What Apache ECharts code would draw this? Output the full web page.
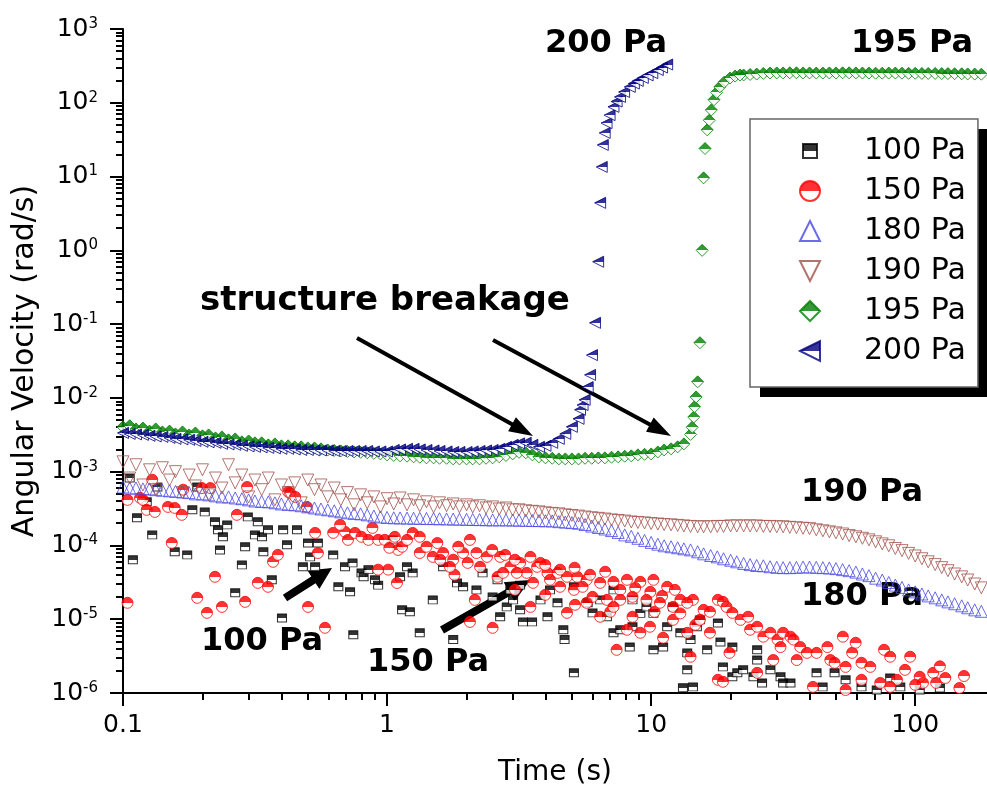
<!DOCTYPE html>
<html>
<head>
<meta charset="utf-8">
<script src="https://cdn.jsdelivr.net/npm/echarts@6/dist/echarts.min.js"></script>
<style>
  html, body { margin: 0; padding: 0; background: #fff; }
  #chart { width: 987px; height: 799px; }
</style>
</head>
<body>
<div id="chart"></div>
<script>
// measurement times shared by the dense curves (s)
var time = [
  0.1,0.106,0.112,0.119,0.126,0.133,0.141,0.15,0.158,0.168,
  0.178,0.188,0.2,0.211,0.224,0.237,0.251,0.266,0.282,0.299,
  0.316,0.335,0.355,0.376,0.398,0.422,0.447,0.473,0.501,0.531,
  0.562,0.596,0.631,0.668,0.708,0.75,0.794,0.841,0.891,0.944,
  1,1.06,1.12,1.19,1.26,1.33,1.41,1.5,1.58,1.68,
  1.78,1.88,2,2.11,2.24,2.37,2.51,2.66,2.82,2.99,
  3.16,3.35,3.55,3.76,3.98,4.22,4.47,4.73,5.01,5.31,
  5.62,5.96,6.31,6.68,7.08,7.5,7.94,8.41,8.91,9.44,
  10,10.6,11.2,11.9,12.6,13.3,14.1,15,15.8,16.8,
  17.8,18.8,20,21.1,22.4,23.7,25.1,26.6,28.2,29.9,
  31.6,33.5,35.5,37.6,39.8,42.2,44.7,47.3,50.1,53.1,
  56.2,59.6,63.1,66.8,70.8,75,79.4,84.1,89.1,94.4,
  100,106,112,119,126,133,141,150,158,168,178
];

// 180 Pa
var v180 = [
  6.2e-4,6.0e-4,6.0e-4,5.85e-4,5.85e-4,5.7e-4,5.6e-4,5.5e-4,5.4e-4,5.3e-4,
  5.2e-4,5.0e-4,5.0e-4,4.85e-4,4.7e-4,4.55e-4,4.55e-4,4.4e-4,4.3e-4,4.15e-4,
  4.0e-4,3.95e-4,3.9e-4,3.78e-4,3.65e-4,3.6e-4,3.55e-4,3.45e-4,3.33e-4,3.22e-4,
  3.12e-4,3.04e-4,2.95e-4,2.85e-4,2.77e-4,2.72e-4,2.68e-4,2.6e-4,2.5e-4,2.43e-4,
  2.4e-4,2.37e-4,2.36e-4,2.35e-4,2.34e-4,2.33e-4,2.32e-4,2.31e-4,2.3e-4,2.29e-4,
  2.28e-4,2.27e-4,2.26e-4,2.25e-4,2.24e-4,2.23e-4,2.22e-4,2.22e-4,2.22e-4,2.21e-4,
  2.2e-4,2.19e-4,2.18e-4,2.17e-4,2.16e-4,2.15e-4,2.1e-4,2.07e-4,2.04e-4,2.0e-4,
  1.92e-4,1.83e-4,1.75e-4,1.67e-4,1.59e-4,1.5e-4,1.39e-4,1.33e-4,1.25e-4,1.17e-4,
  1.1e-4,1.04e-4,9.9e-5,9.6e-5,9.3e-5,9.0e-5,8.7e-5,8.2e-5,7.7e-5,7.3e-5,
  7.0e-5,6.6e-5,6.3e-5,6.0e-5,5.7e-5,5.5e-5,5.35e-5,5.3e-5,5.15e-5,5.05e-5,
  5.0e-5,5.0e-5,5.05e-5,5.1e-5,5.1e-5,5.05e-5,5.0e-5,4.95e-5,4.85e-5,4.7e-5,
  4.55e-5,4.35e-5,4.1e-5,3.9e-5,3.6e-5,3.4e-5,3.15e-5,2.9e-5,2.7e-5,2.5e-5,
  2.35e-5,2.2e-5,2.07e-5,1.95e-5,1.83e-5,1.72e-5,1.62e-5,1.52e-5,1.43e-5,1.34e-5,1.28e-5
];

// 190 Pa
var v190 = [
  1.36e-3,8.2e-4,1.24e-3,6.6e-4,1.06e-3,5.7e-4,1.13e-3,7.7e-4,1.0e-3,5.2e-4,
  9.0e-4,6.4e-4,1.06e-3,4.85e-4,8.2e-4,6.0e-4,1.24e-3,7.05e-4,9.0e-4,4.55e-4,
  7.7e-4,5.7e-4,8.2e-4,4.15e-4,6.6e-4,5.2e-4,7.05e-4,3.78e-4,7.7e-4,5.7e-4,
  6.6e-4,4.55e-4,6.0e-4,4.15e-4,5.2e-4,3.55e-4,4.85e-4,3.78e-4,4.55e-4,3.33e-4,
  4.3e-4,3.65e-4,4.4e-4,3.55e-4,4.15e-4,3.45e-4,3.9e-4,3.33e-4,3.78e-4,3.45e-4,
  3.65e-4,3.33e-4,3.55e-4,3.33e-4,3.45e-4,3.22e-4,3.33e-4,3.12e-4,3.22e-4,3.04e-4,
  3.04e-4,2.95e-4,2.9e-4,2.85e-4,2.77e-4,2.72e-4,2.68e-4,2.6e-4,2.55e-4,2.5e-4,
  2.43e-4,2.37e-4,2.33e-4,2.28e-4,2.22e-4,2.18e-4,2.14e-4,2.08e-4,2.05e-4,2.02e-4,
  1.98e-4,1.95e-4,1.92e-4,1.9e-4,1.87e-4,1.84e-4,1.81e-4,1.79e-4,1.79e-4,1.79e-4,
  1.81e-4,1.81e-4,1.84e-4,1.84e-4,1.84e-4,1.84e-4,1.84e-4,1.81e-4,1.81e-4,1.79e-4,
  1.79e-4,1.76e-4,1.74e-4,1.71e-4,1.69e-4,1.63e-4,1.58e-4,1.53e-4,1.48e-4,1.43e-4,
  1.36e-4,1.31e-4,1.25e-4,1.19e-4,1.12e-4,1.05e-4,9.9e-5,9.1e-5,8.5e-5,7.8e-5,
  7.2e-5,6.6e-5,6.0e-5,5.5e-5,5.0e-5,4.55e-5,4.1e-5,3.75e-5,3.4e-5,3.0e-5,2.66e-5
];

// 195 Pa (null where the jump points below take over)
var v195 = [
  4.05e-3,4.2e-3,3.8e-3,3.9e-3,3.55e-3,3.8e-3,3.46e-3,3.55e-3,3.25e-3,3.46e-3,
  3.15e-3,3.35e-3,3.06e-3,3.15e-3,2.87e-3,2.96e-3,2.7e-3,2.78e-3,2.54e-3,2.61e-3,
  2.46e-3,2.46e-3,2.31e-3,2.38e-3,2.24e-3,2.24e-3,2.17e-3,2.17e-3,2.1e-3,2.1e-3,
  2.04e-3,1.97e-3,1.94e-3,1.91e-3,1.88e-3,1.85e-3,1.83e-3,1.8e-3,1.77e-3,1.74e-3,
  1.69e-3,1.66e-3,1.64e-3,1.62e-3,1.59e-3,1.57e-3,1.54e-3,1.54e-3,1.52e-3,1.52e-3,
  1.49e-3,1.49e-3,1.49e-3,1.49e-3,1.49e-3,1.52e-3,1.54e-3,1.59e-3,1.66e-3,1.74e-3,
  1.83e-3,1.8e-3,1.69e-3,1.59e-3,1.54e-3,1.52e-3,1.49e-3,1.49e-3,1.49e-3,1.49e-3,
  1.52e-3,1.52e-3,1.54e-3,1.54e-3,1.57e-3,1.59e-3,1.62e-3,1.64e-3,1.69e-3,1.72e-3,
  1.74e-3,1.85e-3,1.97e-3,2.04e-3,2.17e-3,2.38e-3,null,null,null,null,
  null,null,null,null,238,242,245,250,253,254,
  254,255,255,254,254,253,253,254,254,255,
  255,254,253,253,252,252,253,253,252,251,
  251,250,250,250,249,249,248,247,246,245,244
];
var jump195 = [
  [14.1,3.2e-3],[14.3,4.0e-3],[14.5,5.5e-3],[14.6,7.6e-3],[14.8,1.03e-2],
  [15.0,1.65e-2],[15.3,5.6e-2],[15.6,1.0],[15.8,9.6],[16.0,24],[16.3,43],
  [16.6,58],[16.9,80],[17.3,110],[17.7,138],[18.2,164],[18.9,190],
  [19.9,217],[20.8,230],[21.7,238]
];

// 200 Pa (runs up to 5.31 s on the shared times)
var v200 = [
  3.35e-3,3.25e-3,3.2e-3,3.15e-3,3.06e-3,3.0e-3,2.96e-3,2.87e-3,2.78e-3,2.74e-3,
  2.7e-3,2.61e-3,2.54e-3,2.5e-3,2.46e-3,2.38e-3,2.34e-3,2.31e-3,2.24e-3,2.2e-3,
  2.17e-3,2.14e-3,2.1e-3,2.07e-3,2.04e-3,2.04e-3,2.0e-3,1.97e-3,1.97e-3,1.94e-3,
  1.94e-3,1.94e-3,1.91e-3,1.91e-3,1.91e-3,1.91e-3,1.91e-3,1.91e-3,1.88e-3,1.88e-3,
  1.88e-3,1.97e-3,2.0e-3,2.04e-3,2.04e-3,2.0e-3,1.97e-3,1.94e-3,1.91e-3,1.88e-3,
  1.85e-3,1.85e-3,1.85e-3,1.88e-3,1.91e-3,1.94e-3,1.97e-3,2.04e-3,2.17e-3,2.31e-3,
  2.42e-3,2.46e-3,2.31e-3,2.17e-3,2.24e-3,2.46e-3,2.78e-3,3.25e-3,4.05e-3,5.2e-3
];
var jump200 = [
  [5.38,6.9e-3],[5.5,8.0e-3],[5.6,9.4e-3],[5.75,1.4e-2],[5.87,2.05e-2],
  [5.97,3.8e-2],[6.13,0.104],[6.3,0.70],[6.41,4.4],[6.5,13.5],[6.56,26.8],
  [6.67,39],[6.78,53],[6.96,68],[7.2,88],[7.4,104],[7.62,120],[7.9,140],
  [8.3,164],[8.6,182],[8.9,198],[9.3,217],[9.7,235],[10.1,252],[10.6,278],
  [11.0,300],[11.5,330]
];

// 150 Pa [time, velocity]
var p150 = [
  [0.104,4.15e-4],[0.104,1.67e-5],[0.116,4.42e-4],[0.119,4.15e-4],[0.123,3.04e-4],
  [0.129,7.77e-4],[0.132,2.85e-4],[0.148,3.33e-4],[0.157,3.23e-4],[0.167,2.6e-4],
  [0.153,1.08e-4],[0.169,5.7e-4],[0.199,6.0e-4],[0.191,1.95e-5],[0.208,1.22e-5],
  [0.223,3.76e-5],[0.237,1.47e-5],[0.29,1.72e-5],[0.27,2.6e-4],[0.214,6.0e-4],
  [0.295,6.2e-4],[0.324,3.11e-5],[0.354,2.75e-5],[0.37,6.0e-5],[0.386,7.45e-5],
  [0.422,5.33e-4],[0.429,5.17e-4],[0.449,4.55e-4],[0.497,3.33e-4],[0.502,1.47e-5],
  [0.534,1.48e-4],[0.547,7.9e-5],[0.582,7.65e-6],[0.625,1.48e-4],[0.693,1.53e-4],
  [0.711,1.19e-4],[0.756,1.48e-4],[0.8,1.31e-4],[0.85,1.19e-4],[0.925,1.19e-4],
  [0.98,1.19e-4],[1.07,1.31e-4],[1.1,8.7e-5],[1.01,4.7e-5],[0.925,4.7e-5],[1.09,3.1e-5],
  [0.664,1.9e-4],[0.88,1.73e-4],[1.02,9.3e-5],
  [1.25,1.48e-4],[1.14,9.6e-5],[1.33,7.9e-5],[1.49,7.0e-5],[1.63,7.9e-5],[1.78,6.4e-5],
  [1.94,7.9e-5],[2.18,7.9e-5],[2.39,7.0e-5],[2.68,7.0e-5],[2.93,5.13e-5],[3.19,5.8e-5],
  [3.38,4.25e-5],[3.7,5.13e-5],[3.81,5.8e-5],[4.05,4.25e-5],[4.42,4.25e-5],[4.8,3.76e-5],
  [5.25,3.76e-5],[5.7,3.42e-5],[6.41,3.11e-5],[7.2,3.21e-5],[8.1,3.42e-5],[9.1,3.21e-5],
  [10.2,3.42e-5],[11.5,2.75e-5],[12.9,1.83e-5],[14.4,1.83e-5],
  [1.33,1.31e-4],[1.55,1.08e-4],[1.86,9.6e-5],[2.06,1.19e-4],[2.5,8.7e-5],[2.8,7.45e-5],
  [3.05,6.4e-5],[3.49,7.0e-5],[3.97,5.45e-5],[4.52,4.7e-5],[5.13,5.0e-5],[5.87,4.0e-5],
  [6.7,4.4e-5],[7.64,2.5e-5],[8.7,2.66e-5],[9.93,2.35e-5],[11.0,2.07e-5],[12.3,2.5e-5],
  [1.8,4.0e-5],[2.15,1.83e-5],[3.05,2.5e-5],[3.97,2.14e-5],[5.15,1.57e-5],[7.0,1.26e-5],
  [10.3,1.26e-5],[14.7,8.4e-6],
  [1.19,1.19e-4],[1.41,9.6e-5],[1.59,6.4e-5],[1.73,5.13e-5],[2.02,5.8e-5],[2.25,5.13e-5],
  [2.62,3.76e-5],[2.75,4.25e-5],[3.1,4.25e-5],[3.57,3.11e-5],[4.14,3.42e-5],[4.52,2.75e-5],
  [5.1,2.5e-5],[5.5,2.75e-5],[6.0,2.01e-5],[6.8,1.83e-5],[7.64,1.83e-5],[8.5,2.01e-5],
  [9.6,1.83e-5],[10.8,1.67e-5],[12.1,1.47e-5],[13.7,1.67e-5],
  [2.06,9.2e-6],[2.51,7.65e-6],[3.49,1.47e-5],[4.8,1.22e-5],[5.7,1.67e-5],[6.41,1.08e-5],
  [7.2,1.47e-5],[8.5,1.08e-5],[9.1,6.55e-6],[9.9,7.9e-6],[11.1,5.6e-6],[12.1,9.8e-6],
  [12.9,1.2e-5],[13.7,6.55e-6],[14.1,3.1e-6],[7.4,3.85e-6],[8.1,7.2e-6],
  [15.8,1.34e-5],[16.7,1.26e-5],[17.9,1.83e-5],[18.7,1.72e-5],[19.3,1.47e-5],[20.3,1.22e-5],
  [21.8,9.8e-6],[23.3,1.08e-5],[23.7,7.2e-6],[25.2,7.9e-6],[26.6,5.8e-6],[28.3,6.55e-6],
  [30.1,5.3e-6],[30.9,4.2e-6],[31.6,6.55e-6],[33.7,5.8e-6],[34.6,5.3e-6],[36.7,4.2e-6],
  [38.9,3.5e-6],[42.3,3.5e-6],[46.5,4.2e-6],[47.7,2.8e-6],[49.5,2.57e-6],[53.2,5.8e-6],
  [54.5,2.26e-6],[57.7,3.5e-6],[59.5,4.8e-6],[62.6,2.57e-6],[67.6,2.26e-6],[76.2,3.85e-6],
  [80.4,3.1e-6],[85.3,1.51e-6],[95.7,3.1e-6],[104,1.66e-6],[107,1.37e-6],[117,1.88e-6],
  [120,1.37e-6],[17.9,1.51e-6],[18.7,1.42e-6],[41.0,1.21e-6],[54.5,1.1e-6],[15.3,9.8e-6],
  [16.7,6.55e-6],[19.8,3.5e-6],[25.2,1.88e-6],[29.0,2.8e-6],[35.6,2.8e-6],[62.6,1.51e-6],
  [73.7,1.37e-6],[80.4,1.21e-6],[91.5,2.06e-6],[100,1.29e-6],[130,1.6e-6],[147,1.17e-6],
  [153,1.7e-6],[124,2.3e-6]
];

// 100 Pa [time, velocity]
var p100 = [
  [0.109,6.4e-5],[0.113,2.37e-4],[0.123,3.9e-4],[0.129,1.39e-4],[0.157,8.2e-5],
  [0.175,7.45e-5],[0.183,3.04e-4],[0.204,2.85e-4],[0.223,2.09e-4],[0.229,1.63e-4],
  [0.248,1.9e-4],[0.239,1.31e-4],[0.233,8.7e-5],[0.266,2.28e-5],[0.282,5.45e-5],
  [0.29,9.6e-5],[0.297,2.44e-4],[0.316,1.39e-4],[0.324,2.09e-4],[0.336,1.31e-4],
  [0.34,8.2e-5],[0.354,1.63e-4],[0.366,3.42e-5],[0.4,1.04e-5],[0.404,1.63e-4],
  [0.418,1.02e-4],[0.456,1.63e-4],[0.48,5.13e-5],[0.502,1.08e-4],[0.511,7.0e-5],
  [0.534,5.13e-5],[0.547,1.08e-4],[0.625,7.45e-5],[0.654,2.75e-5],[0.693,5.13e-5],
  [0.724,2.35e-5],[0.745,6.15e-6],[0.74,5.8e-5],[0.8,4.25e-5],[0.815,3.76e-5],
  [0.85,4.7e-5],[0.9,3.42e-5],[0.925,2.9e-5],[1.05,1.19e-4],[1.14,1.34e-5],
  [1.22,1.26e-5],[0.106,8.2e-4],[0.135,6.2e-4],[0.191,6.2e-4],
  [1.12,3.76e-5],[1.19,5.13e-5],[1.25,4.25e-5],[1.33,6.55e-6],[1.49,1.83e-5],
  [1.78,5.3e-6],[1.84,3.11e-5],[1.94,2.75e-5],[2.18,2.5e-5],[2.51,2.01e-5],
  [2.68,1.08e-5],[2.84,1.47e-5],[3.0,1.83e-5],[3.19,1.34e-5],[3.27,9.2e-6],
  [3.54,9.2e-6],[4.05,1.08e-5],[4.42,1.67e-5],[4.65,7.2e-6],[4.7,5.3e-6],
  [5.1,1.88e-6],[5.75,1.67e-5],[6.41,1.83e-5],[6.8,1.08e-5],[7.2,6.55e-6],
  [7.64,7.2e-6],[8.3,4.2e-6],[9.1,1.2e-5],[9.6,1.47e-5],[10.2,3.85e-6],
  [11.1,4.2e-6],[12.9,6.55e-6],[13.7,3.5e-6],[13.7,2.06e-6],[13.2,1.18e-6],
  [14.4,1.21e-6],[1.63,5.13e-5],[2.3,4.25e-5],[2.93,2.5e-5],[3.81,1.83e-5],
  [6.0,1.22e-5],[8.5,7.9e-6],[11.5,7.9e-6],[12.1,1.47e-5],
  [2.62,3.42e-5],[3.19,2.9e-5],[4.14,2.5e-5],[5.1,2.75e-5],[7.2,2.5e-5],
  [8.5,1.83e-5],[10.2,1.2e-5],
  [14.1,5.3e-6],[14.9,7.9e-6],[15.3,9.8e-6],[16.3,3.85e-6],[17.9,8.9e-6],
  [18.3,4.9e-6],[20.3,4.2e-6],[18.7,2.26e-6],[20.3,1.66e-6],[21.2,1.88e-6],
  [22.3,2.06e-6],[25.2,3.85e-6],[25.2,2.8e-6],[24.4,1.66e-6],[26.3,1.37e-6],
  [28.3,2.06e-6],[30.9,1.66e-6],[31.6,1.37e-6],[33.7,1.37e-6],[42.3,1.88e-6],
  [44.6,1.21e-6],[49.5,1.88e-6],[54.5,1.51e-6],[62.6,1.21e-6],[71.5,1.1e-6],
  [87.8,1.21e-6],[80.4,1.6e-6],[104,1.1e-6],[124,1.17e-6]
];

var legendNames = ["100 Pa", "150 Pa", "180 Pa", "190 Pa", "195 Pa", "200 Pa"];
var xMajor = [0.1, 1, 10, 100];
var yMajor = [1e-6, 1e-5, 1e-4, 1e-3, 1e-2, 1e-1, 1, 10, 100, 1000];
var mantissa = [2, 3, 4, 5, 6, 7, 8, 9];

// minor log ticks
var xMinor = [];
xMajor.forEach(function (d) {
  mantissa.forEach(function (m) {
    if (d * m <= 187) xMinor.push(d * m);
  });
});
var yMinor = [];
yMajor.slice(0, 9).forEach(function (d) {
  mantissa.forEach(function (m) { yMinor.push(d * m); });
});

function onTime(vals) {
  var out = [];
  vals.forEach(function (v, i) {
    if (v != null) out.push([time[i], v]);
  });
  return out;
}

// top half filled, bottom half white
function halfFill(c) {
  return {
    type: "linear", x: 0, y: 0, x2: 0, y2: 1,
    colorStops: [
      { offset: 0, color: c }, { offset: 0.5, color: c },
      { offset: 0.5, color: "#fff" }, { offset: 1, color: "#fff" }
    ]
  };
}

function arrow(x1, y1, x2, y2, w, hl, hw) {
  var dx = x2 - x1, dy = y2 - y1, L = Math.sqrt(dx * dx + dy * dy);
  var ux = dx / L, uy = dy / L, nx = -uy, ny = ux;
  var bx = x2 - ux * hl, by = y2 - uy * hl;
  return {
    type: "polygon",
    shape: {
      points: [
        [x1 + nx * w / 2, y1 + ny * w / 2],
        [bx + nx * w / 2, by + ny * w / 2],
        [bx + nx * hw / 2, by + ny * hw / 2],
        [x2, y2],
        [bx - nx * hw / 2, by - ny * hw / 2],
        [bx - nx * w / 2, by - ny * w / 2],
        [x1 - nx * w / 2, y1 - ny * w / 2]
      ]
    },
    style: { fill: "#000" }
  };
}

function note(text, x, y, size) {
  return {
    type: "text",
    style: {
      text: text, x: x, y: y, fill: "#000",
      font: "bold " + size + 'px "DejaVu Sans"',
      align: "center", verticalAlign: "middle"
    }
  };
}

// symbols as paths so the legend keeps their aspect
var SQUARE = "path://M0,0L10,0L10,10L0,10Z";
var SQUARE_ICON = "path://M0,0L0,0M3,3L17,3L17,17L3,17ZM20,20L20,20";
var TRI_UP = "path://M5,0L10,10L0,10Z";
var TRI_DOWN = "path://M0,0L10,0L5,10Z";
var TRI_LEFT = "path://M0,5L10,0L10,10Z";
var DIAMOND = "path://M5,0L10,5L5,10L0,5Z";

var chart = echarts.init(document.getElementById("chart"));
var FONT = "DejaVu Sans";
var hollow = "rgba(255,255,255,0)";

var option = {
  animation: false,
  textStyle: { fontFamily: FONT },
  grid: { left: 123, right: 0, top: 29, bottom: 106, containLabel: false },
  xAxis: [
    {
      type: "log", min: 0.1, max: 187,
      name: "Time (s)", nameLocation: "middle", nameGap: 66,
      nameTextStyle: { fontSize: 28, color: "#000", fontFamily: FONT },
      axisLine: { lineStyle: { color: "#000", width: 2 } },
      axisTick: { customValues: xMajor, length: 13, lineStyle: { color: "#000", width: 2 } },
      axisLabel: {
        customValues: xMajor, margin: 20, fontSize: 25, color: "#000", fontFamily: FONT,
        formatter: function (v) { return v < 1 ? String(v) : String(Math.round(v)); }
      },
      splitLine: { show: false }
    },
    {
      type: "log", min: 0.1, max: 187, position: "bottom",
      axisLine: { show: false },
      axisTick: { customValues: xMinor, length: 7, lineStyle: { color: "#000", width: 2 } },
      axisLabel: { show: false },
      splitLine: { show: false }
    }
  ],
  yAxis: [
    {
      type: "log", min: 1e-6, max: 1000,
      name: "Angular Velocity (rad/s)", nameLocation: "middle", nameGap: 78,
      nameTextStyle: { fontSize: 30, color: "#000", fontFamily: FONT },
      axisLine: { lineStyle: { color: "#000", width: 2 } },
      axisTick: { customValues: yMajor, length: 13, lineStyle: { color: "#000", width: 2 } },
      axisLabel: {
        customValues: yMajor, margin: 25, color: "#000",
        formatter: function (v) {
          return "{b|10}{s|" + Math.round(Math.log10(v)) + "}";
        },
        rich: {
          b: { fontSize: 25, fontFamily: FONT, color: "#000" },
          s: { fontSize: 15, fontFamily: FONT, color: "#000", verticalAlign: "top" }
        }
      },
      splitLine: { show: false }
    },
    {
      type: "log", min: 1e-6, max: 1000, position: "left",
      axisLine: { show: false },
      axisTick: { customValues: yMinor, length: 7, lineStyle: { color: "#000", width: 2 } },
      axisLabel: { show: false },
      splitLine: { show: false }
    }
  ],
  legend: {
    data: [
      { name: "100 Pa", icon: SQUARE_ICON },
      "150 Pa", "180 Pa", "190 Pa", "195 Pa", "200 Pa"
    ],
    orient: "vertical",
    left: 750, top: 119, z: 10,
    itemWidth: 98, itemHeight: 20, itemGap: 10,
    padding: [17, 12, 21, 49],
    backgroundColor: "#fff",
    borderColor: "#666", borderWidth: 1.5,
    symbolKeepAspect: true,
    selectedMode: false,
    textStyle: { fontFamily: FONT, fontSize: 30, color: "#000", lineHeight: 30 }
  },
  series: [
    {
      name: "100 Pa", type: "scatter", symbol: SQUARE, symbolSize: [9, 8],
      itemStyle: { color: halfFill("#000"), borderColor: "#000", borderWidth: 1 },
      data: p100
    },
    {
      name: "150 Pa", type: "scatter", symbol: "circle", symbolSize: 11,
      itemStyle: { color: halfFill("#ff0000"), borderColor: "#ff0000", borderWidth: 1 },
      data: p150
    },
    {
      name: "180 Pa", type: "scatter", symbol: TRI_UP, symbolSize: 12,
      itemStyle: { color: hollow, borderColor: "#4646e6", borderWidth: 1 },
      data: onTime(v180)
    },
    {
      name: "190 Pa", type: "scatter", symbol: TRI_DOWN, symbolSize: 12,
      itemStyle: { color: hollow, borderColor: "#a0504a", borderWidth: 1 },
      data: onTime(v190)
    },
    {
      name: "195 Pa", type: "scatter", symbol: DIAMOND, symbolSize: 12,
      itemStyle: { color: halfFill("#008000"), borderColor: "#008000", borderWidth: 1 },
      data: onTime(v195).concat(jump195)
    },
    {
      name: "200 Pa", type: "scatter", symbol: TRI_LEFT, symbolSize: 11,
      itemStyle: { color: halfFill("#000080"), borderColor: "#000080", borderWidth: 1 },
      data: onTime(v200).concat(jump200)
    }
  ],
  graphic: [
    // legend drop shadow
    { type: "rect", z: 5, shape: { x: 760, y: 129, width: 240, height: 268 }, style: { fill: "#000" } },
    note("200 Pa", 606, 44, 32),
    note("195 Pa", 912, 44, 32),
    note("190 Pa", 862, 493, 32),
    note("180 Pa", 862, 597, 32),
    note("100 Pa", 262, 642, 32),
    note("150 Pa", 428, 663, 32),
    note("structure breakage", 385, 301, 34),
    arrow(357, 338, 533, 436, 4, 24, 16),
    arrow(493, 340, 671, 436, 4, 24, 16),
    arrow(285, 598, 332, 568, 8, 22, 22),
    arrow(442, 630, 530, 580, 8, 24, 22)
  ]
};
chart.setOption(option);
</script>
</body>
</html>
